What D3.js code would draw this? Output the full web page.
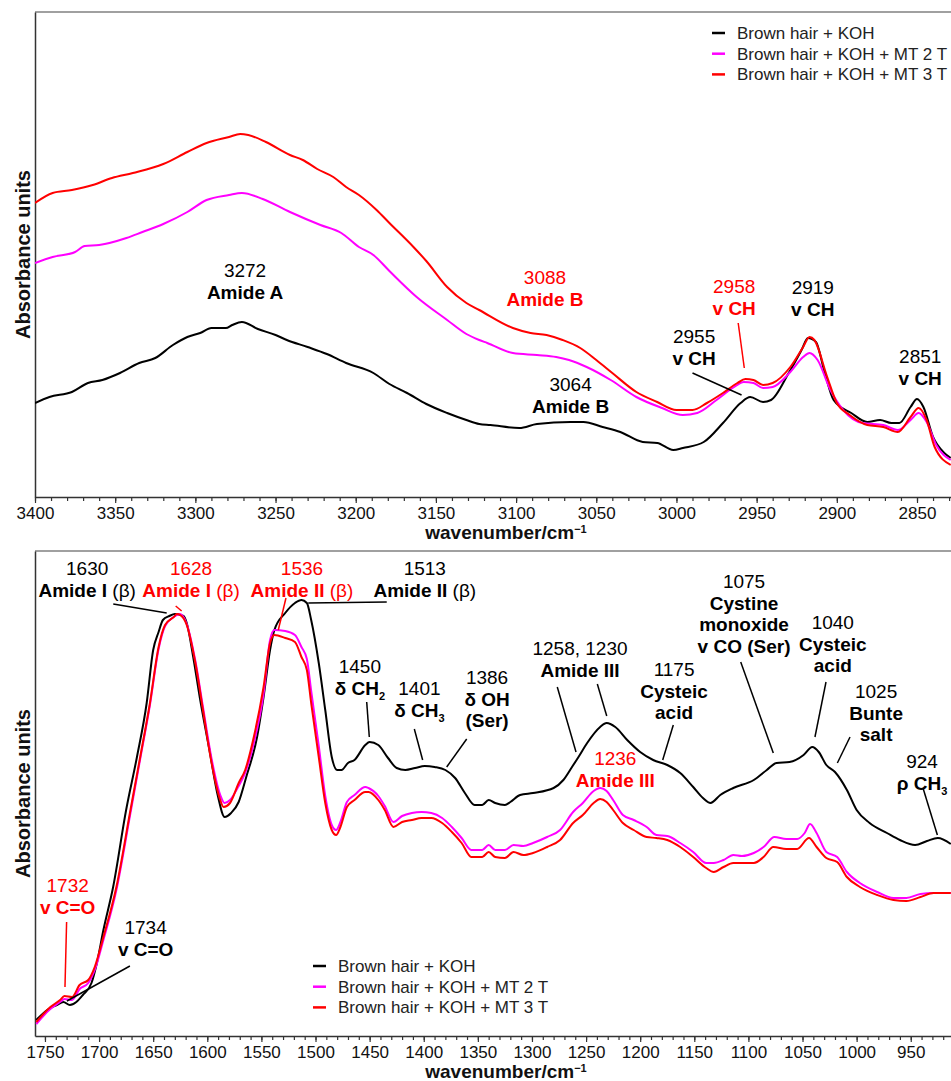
<!DOCTYPE html>
<html>
<head>
<meta charset="utf-8">
<script src="https://cdn.jsdelivr.net/npm/d3@7/dist/d3.min.js"></script>
<style>
    body { margin: 0; background: #fff; }
    svg text { font-family: Arial, "Liberation Sans", sans-serif; }
</style>
</head>
<body>
<svg id="chart" width="951" height="1081"></svg>
<script>
const seriesNames = ['Brown hair + KOH', 'Brown hair + KOH + MT 2 T', 'Brown hair + KOH + MT 3 T'];
const seriesColors = ['#000000', '#ff00ff', '#ff0000'];

// high wavenumber region, [wavenumber, absorbance (arb.)]
const highKOH = [[3400,94],[3391,100],[3377,105],[3367,114],[3358,117],[3347,124],[3335,134],[3325,139],[3314,152],[3305,160],[3297,164],[3290,169],[3281,169],[3277,172],[3271,175],[3261,168],[3250,162],[3243,157],[3230,150],[3218,143],[3206,134],[3189,124],[3179,113],[3168,104],[3156,93],[3143,84],[3131,77],[3123,73],[3116,72],[3098,69],[3087,73],[3066,75],[3058,75],[3046,70],[3035,65],[3021,55],[3012,54],[3002,47],[2996,49],[2983,55],[2971,74],[2960,94],[2954,100],[2946,95],[2941,97],[2930,124],[2922,147],[2918,159],[2913,155],[2908,127],[2902,97],[2891,84],[2881,75],[2873,77],[2866,74],[2861,74],[2854,90],[2850,98],[2846,90],[2840,60],[2833,44],[2829,39]];
const highMT2 = [[3400,234],[3389,240],[3375,245],[3369,251],[3360,252],[3343,259],[3333,265],[3320,273],[3305,285],[3293,297],[3279,302],[3271,304],[3258,298],[3241,285],[3222,272],[3209,264],[3198,250],[3189,242],[3179,226],[3162,200],[3143,177],[3131,163],[3123,157],[3118,154],[3102,144],[3087,142],[3075,140],[3067,137],[3056,130],[3041,117],[3025,100],[3009,89],[2996,82],[2987,84],[2975,97],[2964,110],[2958,115],[2952,114],[2946,109],[2940,110],[2929,125],[2921,140],[2917,144],[2912,137],[2904,107],[2896,87],[2884,74],[2871,72],[2862,67],[2854,77],[2849,84],[2844,75],[2838,52],[2829,37]];
const highMT3 = [[3400,294],[3389,304],[3377,307],[3364,312],[3352,319],[3339,324],[3320,333],[3305,345],[3293,354],[3279,360],[3272,363],[3267,362],[3256,355],[3241,342],[3233,337],[3224,328],[3214,320],[3206,310],[3198,302],[3187,287],[3179,274],[3164,250],[3156,236],[3143,210],[3131,194],[3123,187],[3102,169],[3091,164],[3081,162],[3071,157],[3060,149],[3050,137],[3040,124],[3025,105],[3012,95],[3000,87],[2990,87],[2981,94],[2971,104],[2962,114],[2957,118],[2952,117],[2946,112],[2940,114],[2929,130],[2921,150],[2917,160],[2914,157],[2906,120],[2900,94],[2892,82],[2881,72],[2871,70],[2862,65],[2854,80],[2849,89],[2844,77],[2839,50],[2829,32]];

// fingerprint region
const lowKOH = [[1758,16],[1748,26],[1739,31],[1733,34],[1727,31],[1721,34],[1715,41],[1707,53],[1702,73],[1696,106],[1687,149],[1675,226],[1665,279],[1656,333],[1650,386],[1645,404],[1641,416],[1635,420],[1630,422],[1622,420],[1619,413],[1613,379],[1607,339],[1598,286],[1590,239],[1584,219],[1578,223],[1571,234],[1564,259],[1554,299],[1548,339],[1542,386],[1538,406],[1528,423],[1519,433],[1513,436],[1508,433],[1504,416],[1497,373],[1491,326],[1485,279],[1480,266],[1476,266],[1470,273],[1464,276],[1454,291],[1450,294],[1442,291],[1433,278],[1425,268],[1417,266],[1408,268],[1399,270],[1390,269],[1380,266],[1371,258],[1362,243],[1353,231],[1346,231],[1340,236],[1334,233],[1325,231],[1320,234],[1311,241],[1299,243],[1280,248],[1271,256],[1263,269],[1257,279],[1249,293],[1237,309],[1231,313],[1223,309],[1212,296],[1200,284],[1188,276],[1175,271],[1163,263],[1151,249],[1142,238],[1135,233],[1126,241],[1114,248],[1095,256],[1083,266],[1074,273],[1062,274],[1049,281],[1041,289],[1035,284],[1028,271],[1020,264],[1009,246],[1000,226],[988,213],[972,203],[960,196],[946,191],[935,195],[925,198],[913,192]];
const lowMT2 = [[1758,12],[1745,27],[1736,34],[1732,37],[1725,36],[1718,47],[1710,53],[1704,66],[1696,96],[1684,146],[1671,223],[1662,277],[1653,331],[1645,387],[1639,410],[1631,419],[1625,422],[1619,412],[1611,375],[1604,329],[1596,277],[1588,241],[1584,233],[1579,236],[1571,250],[1565,263],[1557,293],[1548,342],[1542,396],[1538,406],[1528,405],[1519,401],[1513,389],[1508,377],[1504,345],[1497,290],[1491,240],[1485,211],[1481,206],[1477,214],[1471,234],[1464,241],[1454,249],[1451,248],[1442,240],[1436,230],[1428,214],[1420,220],[1411,223],[1402,224],[1393,223],[1383,218],[1374,209],[1365,198],[1356,186],[1346,186],[1340,191],[1334,186],[1325,186],[1317,191],[1308,190],[1299,193],[1286,199],[1274,206],[1262,224],[1253,233],[1243,245],[1237,248],[1231,245],[1225,236],[1216,221],[1206,216],[1194,209],[1185,201],[1175,200],[1163,193],[1151,184],[1139,173],[1132,173],[1123,176],[1114,181],[1106,180],[1095,183],[1086,189],[1076,199],[1065,197],[1055,197],[1048,203],[1043,212],[1037,203],[1028,184],[1018,179],[1009,164],[997,153],[981,144],[966,138],[954,138],[941,142],[929,143],[913,143]];
const lowMT3 = [[1758,14],[1745,29],[1736,36],[1732,40],[1725,39],[1718,51],[1710,56],[1704,69],[1696,99],[1684,149],[1671,226],[1662,279],[1653,333],[1645,389],[1639,411],[1631,419],[1628,422],[1625,421],[1619,411],[1611,373],[1604,326],[1596,273],[1588,236],[1585,229],[1579,233],[1571,253],[1565,266],[1557,299],[1548,349],[1542,393],[1538,401],[1528,398],[1519,394],[1513,379],[1508,366],[1504,333],[1497,279],[1491,233],[1485,206],[1481,201],[1477,209],[1471,229],[1464,236],[1454,244],[1451,244],[1442,236],[1436,226],[1428,209],[1420,214],[1411,216],[1402,218],[1393,218],[1383,213],[1374,204],[1365,193],[1356,179],[1346,179],[1340,184],[1334,179],[1325,178],[1317,184],[1308,181],[1299,183],[1286,189],[1274,196],[1262,213],[1253,221],[1243,233],[1237,237],[1231,234],[1225,226],[1216,213],[1206,206],[1194,199],[1185,198],[1175,196],[1163,189],[1151,179],[1139,168],[1132,164],[1123,169],[1114,173],[1095,173],[1086,179],[1077,189],[1065,187],[1055,187],[1044,198],[1037,189],[1028,178],[1018,174],[1009,159],[997,149],[981,141],[966,136],[954,135],[941,139],[929,143],[913,143]];

const highTickLabels = [3400, 3350, 3300, 3250, 3200, 3150, 3100, 3050, 3000, 2950, 2900, 2850];
const lowTickLabels = [1750, 1700, 1650, 1600, 1550, 1500, 1450, 1400, 1350, 1300, 1250, 1200, 1150, 1100, 1050, 1000, 950];

// band labels: [wavenumber, absorbance] anchor, text lines of [text, bold, subscript] pieces
const highBands = [
    { at: [3269, 220], red: false, lines: [[['3272', 0]], [['Amide A', 1]]] },
    { at: [3082, 213], red: true, lines: [[['3088', 0]], [['Amide B', 1]]] },
    { at: [2964, 204], red: true, lines: [[['2958', 0]], [['v CH', 1]]] },
    { at: [2915, 203], red: false, lines: [[['2919', 0]], [['v CH', 1]]] },
    { at: [2989, 154], red: false, lines: [[['2955', 0]], [['v CH', 1]]] },
    { at: [3066, 106], red: false, lines: [[['3064', 0]], [['Amide B', 1]]] },
    { at: [2848, 134], red: false, lines: [[['2851', 0]], [['v CH', 1]]] },
];
const highLeaders = [
    { from: [2961.5, 174], to: [2957.7, 129], red: true },
    { from: [2990, 124], to: [2959.4, 102], red: false },
];
const lowBands = [
    { at: [1711, 461], red: false, lines: [[['1630', 0]], [['Amide I ', 1], ['(β)', 0]]] },
    { at: [1615, 461], red: true, lines: [[['1628', 0]], [['Amide I ', 1], ['(β)', 0]]] },
    { at: [1512.5, 461], red: true, lines: [[['1536', 0]], [['Amide II ', 1], ['(β)', 0]]] },
    { at: [1399, 461], red: false, lines: [[['1513', 0]], [['Amide II ', 1], ['(β)', 0]]] },
    { at: [1459, 363], red: false, lines: [[['1450', 0]], [['δ CH', 1], ['2', 1, 1]]] },
    { at: [1404, 341], red: false, lines: [[['1401', 0]], [['δ CH', 1], ['3', 1, 1]]] },
    { at: [1341.5, 352], red: false, lines: [[['1386', 0]], [['δ OH', 1]], [['(Ser)', 1]]] },
    { at: [1255.6, 381], red: false, lines: [[['1258, 1230', 0]], [['Amide III', 1]]] },
    { at: [1168.7, 360], red: false, lines: [[['1175', 0]], [['Cysteic', 1]], [['acid', 1]]] },
    { at: [1104, 448], red: false, lines: [[['1075', 0]], [['Cystine', 1]], [['monoxide', 1]], [['v CO (Ser)', 1]]] },
    { at: [1022, 407], red: false, lines: [[['1040', 0]], [['Cysteic', 1]], [['acid', 1]]] },
    { at: [982, 338], red: false, lines: [[['1025', 0]], [['Bunte', 1]], [['salt', 1]]] },
    { at: [939.6, 268], red: false, lines: [[['924', 0]], [['ρ CH', 1], ['3', 1, 1]]] },
    { at: [1223, 271], red: true, lines: [[['1236', 0]], [['Amide III', 1]]] },
    { at: [1729, 144], red: true, lines: [[['1732', 0]], [['v C=O', 1]]] },
    { at: [1657, 102], red: false, lines: [[['1734', 0]], [['v C=O', 1]]] },
];
const lowLeaders = [
    { from: [1686.9, 432], to: [1637.5, 423], red: false },
    { from: [1629.2, 430], to: [1623.7, 425], red: true },
    { from: [1527.3, 438], to: [1534.4, 406], red: true },
    { from: [1506.7, 433], to: [1434.2, 434], red: false },
    { from: [1452.7, 334], to: [1450.3, 299], red: false },
    { from: [1408.7, 307], to: [1401, 276], red: false },
    { from: [1360.3, 297], to: [1378.8, 269], red: false },
    { from: [1276.6, 349], to: [1259.3, 284], red: false },
    { from: [1239.6, 352], to: [1230.9, 320], red: false },
    { from: [1169.4, 311], to: [1179.2, 276], red: false },
    { from: [1107.1, 374], to: [1077, 283], red: false },
    { from: [1028.3, 354], to: [1038.5, 299], red: false },
    { from: [1006.1, 299], to: [1017.8, 273], red: false },
    { from: [938.4, 247], to: [925.4, 201], red: false },
    { from: [1730, 114], to: [1731.5, 49], red: true },
    { from: [1671.5, 70], to: [1729.7, 35], red: false },
];

const svg = d3.select('#chart');
const plotLeft = 35;
const plotRight = 951;
const plotHeight = 485;

function drawPanel(cfg) {
    const x = d3.scaleLinear().domain(cfg.xDomain).range([plotLeft, plotRight]);
    const y = d3.scaleLinear().domain([0, plotHeight]).range([cfg.bottom, cfg.bottom - plotHeight]);
    const g = svg.append('g');

    g.append('clipPath').attr('id', cfg.id + '-clip')
        .append('rect')
        .attr('x', plotLeft).attr('y', cfg.bottom - plotHeight)
        .attr('width', plotRight - plotLeft).attr('height', plotHeight);

    // frame top
    g.append('line')
        .attr('x1', plotLeft).attr('x2', plotRight)
        .attr('y1', y(plotHeight)).attr('y2', y(plotHeight))
        .attr('stroke', '#808080').attr('stroke-width', 1.5);

    // minor ticks
    g.append('g')
        .attr('transform', `translate(0,${cfg.bottom})`)
        .call(d3.axisBottom(x).tickValues(cfg.minor).tickSize(4).tickSizeOuter(0).tickFormat(''))
        .call(a => a.select('.domain').remove())
        .call(a => a.selectAll('line').attr('stroke', '#333').attr('stroke-width', 1.2));

    g.append('g')
        .attr('transform', `translate(0,${cfg.bottom})`)
        .call(d3.axisBottom(x).tickValues(cfg.ticks).tickSize(6).tickSizeOuter(0).tickPadding(4).tickFormat(d3.format('d')))
        .call(a => a.select('.domain').attr('stroke', '#333').attr('stroke-width', 1.5))
        .call(a => a.selectAll('line').attr('stroke', '#333').attr('stroke-width', 1.2))
        .call(a => a.selectAll('text').attr('font-size', 17).attr('fill', '#111')
            .style('font-family', 'Arial, "Liberation Sans", sans-serif'));

    g.append('g')
        .attr('transform', `translate(${plotLeft},0)`)
        .call(d3.axisLeft(y).tickValues([]).tickSizeOuter(0))
        .call(a => a.select('.domain').attr('stroke', '#333').attr('stroke-width', 1.5));

    const xTitle = g.append('text')
        .attr('x', 506).attr('y', cfg.bottom + 42)
        .attr('text-anchor', 'middle')
        .attr('font-size', 19).attr('font-weight', 'bold').attr('fill', '#111')
        .text('wavenumber/cm');
    xTitle.append('tspan').attr('font-size', 11).attr('dy', -6).text('−1');

    g.append('text')
        .attr('transform', `translate(30,${cfg.bottom - plotHeight / 2}) rotate(-90)`)
        .attr('text-anchor', 'middle')
        .attr('font-size', 20).attr('font-weight', 'bold').attr('fill', '#111')
        .text('Absorbance units');

    const line = d3.line()
        .x(d => x(d[0]))
        .y(d => y(d[1]))
        .curve(d3.curveMonotoneX);

    g.append('g')
        .attr('clip-path', `url(#${cfg.id}-clip)`)
        .selectAll('path')
        .data(cfg.series)
        .join('path')
        .attr('d', d => line(d))
        .attr('fill', 'none')
        .attr('stroke', (d, i) => seriesColors[i])
        .attr('stroke-width', 2)
        .attr('stroke-linejoin', 'round');

    g.append('g')
        .selectAll('line')
        .data(cfg.leaders)
        .join('line')
        .attr('x1', d => x(d.from[0])).attr('y1', d => y(d.from[1]))
        .attr('x2', d => x(d.to[0])).attr('y2', d => y(d.to[1]))
        .attr('stroke', d => d.red ? '#ff0000' : '#000')
        .attr('stroke-width', 1.5);

    const lineGap = 21.5;
    cfg.bands.forEach(band => {
        band.lines.forEach((pieces, li) => {
            const t = g.append('text')
                .attr('x', x(band.at[0]))
                .attr('y', y(band.at[1]) + li * lineGap)
                .attr('text-anchor', 'middle')
                .attr('font-size', 19)
                .attr('fill', band.red ? '#ff0000' : '#000');
            let shifted = false;
            pieces.forEach(p => {
                const span = t.append('tspan')
                    .attr('font-weight', p[1] ? 'bold' : 'normal')
                    .text(p[0]);
                if (p[2]) {
                    span.attr('font-size', 11).attr('dy', 5);
                    shifted = true;
                } else if (shifted) {
                    span.attr('dy', -5);
                    shifted = false;
                }
            });
        });
    });

    const legend = g.append('g')
        .selectAll('g')
        .data(seriesNames)
        .join('g')
        .attr('transform', (d, i) => `translate(${cfg.legend[0]},${cfg.legend[1] + i * 20.7})`);
    legend.append('line')
        .attr('x1', 0).attr('x2', 13)
        .attr('stroke', (d, i) => seriesColors[i])
        .attr('stroke-width', 2.5);
    legend.append('text')
        .attr('x', 25).attr('y', 6)
        .attr('font-size', 17).attr('fill', '#222')
        .text(d => d);
}

drawPanel({
    id: 'high',
    xDomain: [3400, 2828.8],
    bottom: 497,
    ticks: highTickLabels,
    minor: d3.range(3400, 2829, -10),
    series: [highKOH, highMT2, highMT3],
    bands: highBands,
    leaders: highLeaders,
    legend: [712, 33],
});

drawPanel({
    id: 'low',
    xDomain: [1759.2, 912.8],
    bottom: 1036,
    ticks: lowTickLabels,
    minor: d3.range(1750, 913, -10),
    series: [lowKOH, lowMT2, lowMT3],
    bands: lowBands,
    leaders: lowLeaders,
    legend: [313, 966],
});
</script>
</body>
</html>
